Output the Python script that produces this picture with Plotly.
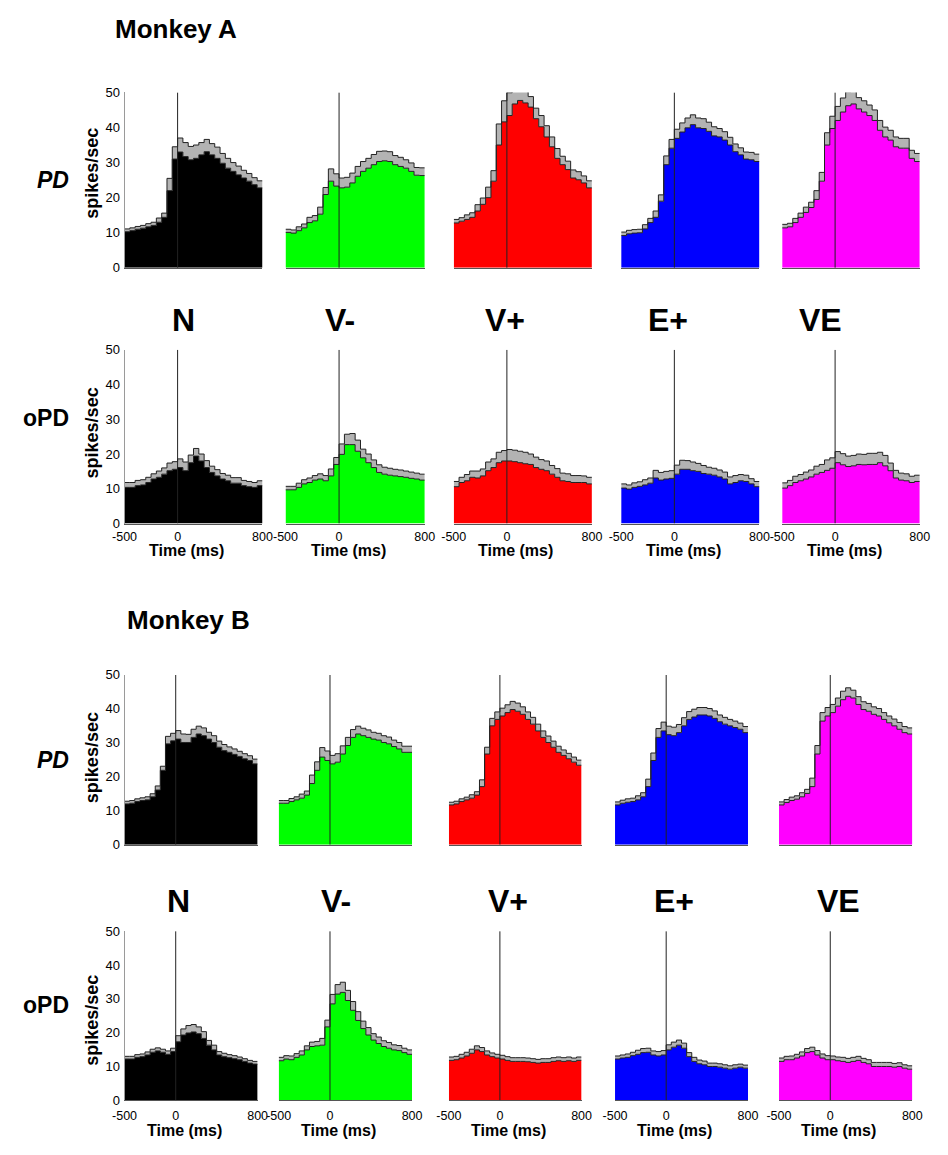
import plotly.graph_objects as go

# Peri-event time histograms: mean firing rate (50 ms bins, -500..800 ms)
# and the spread band (one value per 100 ms) for each condition.
BIN_EDGES = list(range(-500, 801, 50))
CONDITIONS = ["N", "V-", "V+", "E+", "VE"]
COND_COLORS = ["#000000", "#00ff00", "#ff0000", "#0000ff", "#ff00ff"]
Y_TICKS = [0, 10, 20, 30, 40, 50]
X_TICKS = [-500, 0, 800]

# ---- Monkey A, preferred direction
A_PD_N = [10.3, 10.6, 11.0, 11.3, 11.7, 12.1, 13.0, 14.4, 22.0, 31.0, 33.0, 31.7, 30.8,
          31.2, 32.2, 33.1, 32.2, 31.2, 29.8, 28.4, 27.5, 26.5, 25.6, 24.7, 23.7, 22.8]
A_PD_N_SEM = [0.8, 0.8, 0.9, 1.2, 3.5, 4.0, 3.8, 3.5, 3.2, 2.8, 2.5, 2.2, 2.0]
A_PD_VM = [10.1, 9.9, 10.6, 11.4, 12.9, 13.4, 15.3, 20.9, 24.7, 23.3, 22.8, 23.0, 24.2,
           26.1, 27.5, 28.4, 29.4, 30.3, 30.5, 30.3, 29.4, 28.9, 28.4, 27.5, 26.4, 26.3]
A_PD_VM_SEM = [0.9, 1.1, 1.5, 2.0, 3.5, 2.8, 2.8, 2.8, 2.9, 2.8, 2.6, 2.4, 2.2]
A_PD_VP = [12.8, 13.3, 13.8, 14.4, 16.2, 18.1, 20.0, 24.7, 35.0, 41.6, 43.4, 46.7, 47.7,
           47.0, 45.8, 42.5, 40.2, 37.3, 34.5, 31.2, 29.4, 28.0, 25.6, 25.1, 24.2, 22.8]
A_PD_VP_SEM = [1.0, 1.3, 1.8, 3.0, 6.0, 6.5, 5.0, 3.0, 3.2, 2.8, 2.4, 2.3, 2.0]
A_PD_EP = [9.2, 9.7, 9.9, 10.0, 11.1, 12.9, 14.4, 19.0, 29.4, 34.1, 36.9, 38.7, 39.9,
           40.8, 39.9, 39.7, 38.9, 37.6, 37.3, 36.4, 35.0, 33.1, 32.2, 31.0, 30.8, 30.3]
A_PD_EP_SEM = [1.0, 1.0, 1.2, 1.8, 2.5, 2.6, 2.8, 2.8, 2.6, 2.4, 2.2, 2.0, 2.1]
A_PD_VE = [11.4, 11.7, 12.9, 14.4, 15.8, 17.2, 19.5, 24.7, 35.0, 39.7, 42.0, 44.4, 46.2,
           46.7, 45.3, 44.4, 43.4, 42.0, 39.2, 37.3, 36.4, 34.5, 34.1, 34.1, 31.2, 30.3]
A_PD_VE_SEM = [1.0, 1.2, 1.5, 2.5, 3.5, 4.0, 4.0, 3.2, 3.0, 2.8, 2.8, 2.8, 2.3]

# ---- Monkey A, opposite direction
A_OPD_N = [10.4, 10.4, 10.9, 11.1, 11.8, 12.8, 13.3, 14.2, 15.2, 15.6, 16.1, 15.2, 17.5,
           19.4, 18.0, 16.1, 14.7, 13.7, 12.8, 12.3, 11.6, 11.6, 10.9, 10.6, 10.4, 10.9]
A_OPD_N_SEM = [1.4, 1.5, 1.5, 1.8, 2.2, 2.5, 2.2, 2.0, 1.8, 1.6, 1.6, 1.5, 1.4]
A_OPD_VM = [9.7, 9.7, 10.4, 11.4, 11.8, 12.5, 12.8, 12.3, 13.7, 17.0, 19.9, 22.7, 22.7,
            20.8, 18.9, 17.5, 16.1, 14.7, 14.2, 13.9, 13.7, 13.5, 13.3, 13.0, 12.8, 12.5]
A_OPD_VM_SEM = [1.0, 1.2, 1.3, 1.5, 2.0, 3.0, 3.2, 2.5, 2.2, 2.0, 1.9, 1.8, 1.7]
A_OPD_VP = [10.6, 11.8, 12.3, 13.3, 13.1, 13.7, 15.2, 16.1, 17.5, 18.0, 18.0, 17.8, 17.5,
            17.2, 17.0, 16.1, 15.6, 15.2, 14.2, 13.3, 12.3, 12.1, 11.8, 11.8, 11.8, 11.4]
A_OPD_VP_SEM = [1.5, 1.8, 2.0, 2.5, 3.0, 3.3, 3.3, 3.0, 2.8, 2.5, 2.2, 2.0, 1.9]
A_OPD_EP = [10.2, 9.9, 10.4, 10.7, 11.1, 11.6, 13.1, 12.5, 12.8, 13.0, 14.2, 15.6, 15.6,
            15.2, 15.0, 14.4, 14.2, 13.9, 13.4, 12.8, 11.4, 11.8, 12.3, 12.1, 11.4, 10.6]
A_OPD_EP_SEM = [1.2, 1.3, 1.5, 2.2, 2.2, 2.6, 2.5, 2.3, 2.0, 2.0, 2.0, 1.8, 1.5]
A_OPD_VE = [10.2, 10.9, 11.8, 12.3, 12.8, 13.4, 14.2, 14.7, 15.3, 15.9, 17.5, 16.9, 16.4,
            16.6, 17.0, 16.9, 17.0, 17.0, 17.5, 16.6, 15.2, 13.1, 12.5, 12.3, 11.8, 12.1]
A_OPD_VE_SEM = [1.5, 1.8, 2.0, 2.3, 3.0, 3.2, 3.0, 3.0, 3.2, 3.0, 2.2, 2.0, 1.8]

# ---- Monkey B, preferred direction
B_PD_N = [12.0, 12.2, 12.7, 13.0, 13.2, 14.1, 16.1, 21.9, 29.7, 30.6, 31.1, 30.1, 30.1,
          31.6, 32.6, 32.1, 31.1, 30.1, 28.7, 27.7, 27.2, 26.6, 26.0, 25.3, 24.8, 23.8]
B_PD_N_SEM = [0.8, 0.8, 0.9, 1.2, 2.2, 2.5, 2.4, 2.3, 2.0, 1.8, 1.6, 1.5, 1.4]
B_PD_VM = [12.2, 12.2, 12.7, 13.2, 13.7, 14.6, 18.0, 21.9, 25.8, 24.8, 23.8, 24.3, 26.7,
           29.2, 31.6, 32.6, 32.1, 31.6, 31.1, 30.8, 30.1, 29.7, 28.9, 28.2, 27.2, 27.2]
B_PD_VM_SEM = [0.8, 0.9, 1.2, 2.5, 2.8, 2.5, 2.4, 2.3, 2.2, 2.0, 2.0, 1.9, 1.8]
B_PD_VP = [11.7, 12.0, 12.7, 13.2, 13.7, 14.6, 17.1, 26.7, 35.0, 36.9, 37.9, 38.9, 39.8,
           39.3, 38.4, 36.9, 35.5, 33.5, 31.6, 30.1, 28.7, 27.2, 26.3, 25.3, 24.3, 23.4]
B_PD_VP_SEM = [0.8, 0.8, 1.0, 2.0, 2.2, 2.3, 2.4, 2.2, 2.0, 1.9, 1.8, 1.6, 1.5]
B_PD_EP = [11.7, 12.2, 12.5, 12.7, 13.2, 14.1, 17.1, 24.8, 31.6, 33.5, 32.4, 32.1, 33.0,
           35.0, 36.9, 37.6, 38.2, 38.2, 37.9, 37.2, 36.2, 35.5, 35.0, 34.5, 34.0, 33.0]
B_PD_EP_SEM = [0.9, 1.0, 1.2, 2.2, 2.6, 2.5, 2.4, 2.3, 2.2, 2.2, 2.0, 1.9, 1.8]
B_PD_VE = [11.7, 12.4, 13.0, 13.4, 14.1, 15.1, 17.1, 26.7, 36.4, 37.9, 38.9, 40.8, 42.7,
           43.7, 43.2, 41.3, 39.8, 39.3, 38.4, 37.9, 36.9, 35.9, 35.0, 34.0, 33.0, 32.6]
B_PD_VE_SEM = [0.9, 1.0, 1.2, 2.5, 2.5, 2.4, 2.5, 2.3, 2.3, 2.2, 2.0, 2.0, 1.8]

# ---- Monkey B, opposite direction
B_OPD_N = [12.2, 12.2, 12.7, 12.9, 13.4, 14.2, 14.6, 14.2, 13.6, 14.4, 17.3, 19.3, 19.9,
           20.2, 19.7, 18.3, 16.3, 14.9, 13.4, 12.9, 12.6, 12.3, 12.0, 11.5, 11.0, 10.7]
B_OPD_N_SEM = [0.8, 0.8, 0.9, 0.9, 1.0, 1.8, 2.2, 2.0, 1.4, 1.0, 0.9, 0.8, 0.8]
B_OPD_VM = [11.7, 12.2, 12.0, 12.7, 13.4, 14.9, 15.9, 16.1, 16.3, 21.7, 28.5, 31.4, 31.9,
            29.5, 26.6, 23.6, 21.2, 19.3, 17.8, 16.8, 15.9, 15.4, 14.9, 14.7, 14.1, 13.6]
B_OPD_VM_SEM = [1.0, 1.1, 1.2, 1.3, 2.0, 2.8, 3.0, 2.6, 2.2, 1.9, 1.7, 1.5, 1.3]
B_OPD_VP = [11.8, 12.0, 12.5, 13.1, 13.9, 14.9, 14.4, 13.4, 12.9, 12.5, 12.2, 11.8, 11.5,
            11.5, 11.5, 11.4, 11.2, 11.0, 11.2, 11.2, 11.5, 11.7, 11.5, 11.7, 11.5, 11.8]
B_OPD_VP_SEM = [1.0, 1.1, 1.2, 1.2, 1.1, 1.1, 1.1, 1.1, 1.1, 1.1, 1.1, 1.1, 1.0]
B_OPD_EP = [12.2, 12.5, 12.7, 13.2, 13.6, 14.1, 14.2, 13.4, 13.1, 13.4, 14.9, 15.7, 16.3,
            15.4, 12.9, 11.5, 10.8, 10.5, 10.0, 10.0, 9.8, 9.5, 9.2, 9.5, 9.8, 9.5]
B_OPD_EP_SEM = [0.9, 1.0, 1.2, 1.2, 1.3, 1.5, 1.5, 1.2, 1.1, 1.0, 1.0, 1.0, 0.9]
B_OPD_VE = [11.5, 12.0, 12.0, 12.5, 13.1, 14.1, 14.4, 13.4, 12.5, 12.0, 12.0, 11.7, 11.5,
            11.2, 11.5, 11.8, 11.2, 10.8, 10.0, 10.0, 10.0, 10.0, 9.8, 10.0, 9.5, 9.2]
B_OPD_VE_SEM = [1.0, 1.1, 1.2, 1.3, 1.2, 1.1, 1.2, 1.2, 1.2, 1.2, 1.2, 1.1, 1.0]

ROWS = [
    [(A_PD_N, A_PD_N_SEM), (A_PD_VM, A_PD_VM_SEM), (A_PD_VP, A_PD_VP_SEM),
     (A_PD_EP, A_PD_EP_SEM), (A_PD_VE, A_PD_VE_SEM)],
    [(A_OPD_N, A_OPD_N_SEM), (A_OPD_VM, A_OPD_VM_SEM), (A_OPD_VP, A_OPD_VP_SEM),
     (A_OPD_EP, A_OPD_EP_SEM), (A_OPD_VE, A_OPD_VE_SEM)],
    [(B_PD_N, B_PD_N_SEM), (B_PD_VM, B_PD_VM_SEM), (B_PD_VP, B_PD_VP_SEM),
     (B_PD_EP, B_PD_EP_SEM), (B_PD_VE, B_PD_VE_SEM)],
    [(B_OPD_N, B_OPD_N_SEM), (B_OPD_VM, B_OPD_VM_SEM), (B_OPD_VP, B_OPD_VP_SEM),
     (B_OPD_EP, B_OPD_EP_SEM), (B_OPD_VE, B_OPD_VE_SEM)],
]

# ---- page geometry (pixels)
W, H = 948, 1155
COLS_A = [(114.3, 255.7), (279.3, 422.0), (451.7, 593.3), (623.3, 765.0), (788.3, 929.3)]
COLS_B = [(114.3, 250.7), (272.3, 409.0), (446.7, 582.7), (617.0, 753.3), (785.0, 921.7)]
ROW_Y = [(86.5, 264.3), (347.3, 523.3), (676.7, 848.7), (936.3, 1107.7)]
ROW_COLS = [COLS_A, COLS_A, COLS_B, COLS_B]
TICK_STANDOFF = {1: 1, 3: 4}

FONT = "Arial, Liberation Sans, Helvetica, sans-serif"
OUTLINE = "#222222"
BAND = "#b3b3b3"

fig = go.Figure()
layout = dict(
    width=W, height=H, margin=dict(l=0, r=0, t=0, b=0),
    paper_bgcolor="white", plot_bgcolor="white", showlegend=False,
    font=dict(family=FONT, color="black", size=13),
)
shapes, annotations = [], []


def px_x(v):
    return v / W


def px_y(v):
    return 1 - v / H


k = 0
for r, row in enumerate(ROWS):
    y0, y1 = ROW_Y[r]
    bottom_row = r in (1, 3)
    for c, (mean, sem) in enumerate(row):
        k += 1
        xa, ya = f"x{k}", f"y{k}"
        x0, x1 = ROW_COLS[r][c]
        sem_bins = [s for s in sem for _ in range(2)]
        upper = [m + s for m, s in zip(mean, sem_bins)]
        xs = BIN_EDGES
        fig.add_trace(go.Scatter(
            x=xs, y=mean + [mean[-1]], mode="lines", line_shape="hv",
            line=dict(color=OUTLINE, width=1), fill="tozeroy",
            fillcolor=COND_COLORS[c], xaxis=xa, yaxis=ya, hoverinfo="skip"))
        fig.add_trace(go.Scatter(
            x=xs, y=upper + [upper[-1]], mode="lines", line_shape="hv",
            line=dict(color=OUTLINE, width=1), fill="tonexty",
            fillcolor=BAND, xaxis=xa, yaxis=ya, hoverinfo="skip"))

        sfx = "" if k == 1 else str(k)
        layout[f"xaxis{sfx}"] = dict(
            domain=[px_x(x0), px_x(x1)], range=[-500, 800], anchor=ya,
            showgrid=False, zeroline=False, showline=True, linecolor="#555555",
            linewidth=1, ticks="", tickvals=X_TICKS,
            ticktext=[str(t) for t in X_TICKS], showticklabels=bottom_row,
            ticklabelstandoff=TICK_STANDOFF.get(r, 0),
            tickfont=dict(size=12.5, family=FONT))
        layout[f"yaxis{sfx}"] = dict(
            domain=[px_y(y1), px_y(y0)], range=[0, 50], anchor=xa,
            showgrid=False, zeroline=False, showline=(c == 0),
            linecolor="#9a9a9a", linewidth=1, ticks="", tickvals=Y_TICKS,
            showticklabels=(c == 0), ticklabelstandoff=1,
            tickfont=dict(size=13, family=FONT))

        # event onset marker at t = 0
        shapes.append(dict(type="line", xref=xa, yref=ya, x0=0, x1=0, y0=0, y1=50,
                           line=dict(color="#222222", width=1), layer="above"))

        if bottom_row:
            annotations.append(dict(
                text="<b>Time (ms)</b>", xref="paper", yref="paper",
                x=px_x((x0 + x1) / 2 - 7), y=px_y(y1 + 27 + (4 if r == 3 else 0)),
                showarrow=False, xanchor="center", yanchor="middle",
                font=dict(size=16, family=FONT)))

# monkey titles
for txt, x, y in [("Monkey A", 102.7, 22), ("Monkey B", 114.3, 621)]:
    annotations.append(dict(text=f"<b>{txt}</b>", xref="paper", yref="paper",
                            x=px_x(x), y=px_y(y), xanchor="left", yanchor="middle",
                            showarrow=False, font=dict(size=26, family=FONT)))

# condition headers above the oPD rows
COND_POS = [
    ([175, 335, 504, 671, 828], 317),
    ([170, 331, 507, 677, 846], 906),
]
for xs_c, yc in COND_POS:
    for name, xc in zip(CONDITIONS, xs_c):
        annotations.append(dict(text=f"<b>{name}</b>", xref="paper", yref="paper",
                                x=px_x(xc), y=px_y(yc), xanchor="center",
                                yanchor="middle", showarrow=False,
                                font=dict(size=32, family=FONT)))

# row labels and y-axis titles
ROW_LABELS = [("<b><i>PD</i></b>", 41, 175, 169), ("<b>oPD</b>", 34, 416, 432),
              ("<b><i>PD</i></b>", 41, 763, 761), ("<b>oPD</b>", 34, 1011, 1027)]
for lab, lx, ly, sy in ROW_LABELS:
    annotations.append(dict(text=lab, xref="paper", yref="paper", x=px_x(lx),
                            y=px_y(ly), xanchor="center", yanchor="middle",
                            showarrow=False, font=dict(size=23, family=FONT)))
    annotations.append(dict(text="<b>spikes/sec</b>", xref="paper", yref="paper",
                            x=px_x(81), y=px_y(sy), xanchor="center",
                            yanchor="middle", textangle=-90, showarrow=False,
                            font=dict(size=18, family=FONT)))

layout["shapes"] = shapes
layout["annotations"] = annotations
fig.update_layout(**layout)
fig.write_html("out.html")
